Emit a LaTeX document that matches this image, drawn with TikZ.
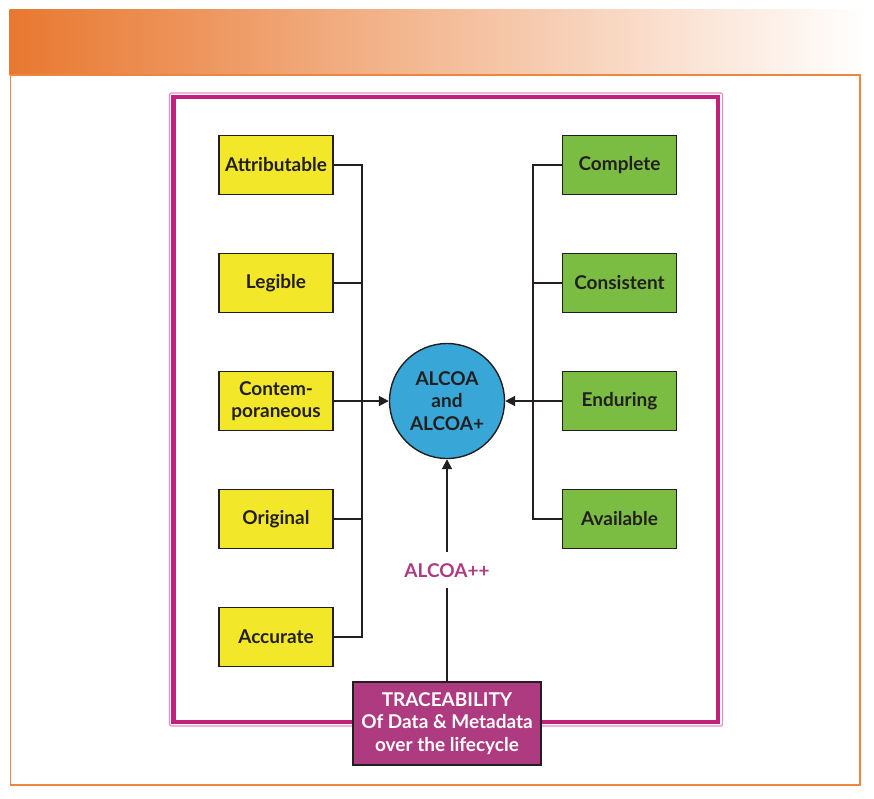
\documentclass[tikz,border=0pt]{standalone}
\usepackage{fontspec}
\setmainfont{Lato}
\usetikzlibrary{arrows.meta}

\definecolor{hdrorange}{HTML}{E87830}
\definecolor{hdrmid}{HTML}{EFA677}
\definecolor{frameorange}{HTML}{EC8640}
\definecolor{framemag}{HTML}{C0217A}
\definecolor{framepink}{HTML}{E78DC2}
\definecolor{boxyellow}{HTML}{F2E829}
\definecolor{boxgreen}{HTML}{7BBD43}
\definecolor{hubblue}{HTML}{38A6D6}
\definecolor{tracemag}{HTML}{AE3A80}
\definecolor{inkdark}{HTML}{231F20}

\tikzset{
  pillar/.style={draw=inkdark, line width=1.4pt, rectangle, minimum width=114pt, minimum height=59pt, inner sep=0pt, align=center, text=inkdark, font=\bfseries\fontsize{19}{22.5}\selectfont},
  alcoa/.style={pillar, fill=boxyellow},
  plus/.style={pillar, fill=boxgreen},
  hub/.style={draw=inkdark, line width=1.4pt, circle, fill=hubblue, minimum size=115pt, inner sep=0pt, align=center, text=inkdark, font=\bfseries\fontsize{19}{22.5}\selectfont},
  trace/.style={draw=inkdark, line width=1.4pt, rectangle, fill=tracemag, minimum width=188pt, minimum height=83pt, inner sep=0pt, align=center, text=white, font=\bfseries\fontsize{19}{22.5}\selectfont},
  link/.style={draw=inkdark, line width=1.9pt},
  arr/.style={link, -{Triangle[length=10pt,width=10pt]}},
}

\begin{document}
\begin{tikzpicture}[x=1pt, y=-1pt]
				\useasboundingbox (0,0) rectangle (874,798);
				% header band and page frame
				\shade[left color=hdrorange, middle color=hdrmid, right color=white] (9.5,9) rectangle (865,75);
				\draw[frameorange, line width=1.5pt] (10.5,75) rectangle (860,785);
				% magenta frame
				\draw[framepink, line width=1.2pt, rounded corners=2pt] (169.5,93) rectangle (722.5,726);
				\draw[framemag, line width=4.5pt] (173.5,97) rectangle (718,722);
				% ALCOA
				\node[alcoa] (At)at(276, 165) {Attributable};
				\node[alcoa] (Le)at(276, 283) {Legible};
				\node[alcoa] (Co)at(276, 401) {Contem-\\poraneous};
				\node[alcoa] (Or)at(276, 519) {Original};
				\node[alcoa] (Ac)at(276, 637) {Accurate};
				% ALCOA+
				\node[plus] (Cm)at(619.5, 165) {Complete};
				\node[plus] (Cs)at(619.5, 283) {Consistent};
				\node[plus] (En)at(619.5, 401) {Enduring};
				\node[plus] (Av)at(619.5, 519) {Available};
				\node[hub] (Hub)at(447, 401) {ALCOA\\and\\ALCOA+};
				\node[trace] (Tr)at(447, 723.5) {TRACEABILITY\\Of Data \& Metadata\\over the lifecycle};
				\coordinate (busL)at(362, 401);
				\coordinate (busR)at(533, 401);
				\draw[link] (At.east) -| (busL) |- (Ac.east);
				\draw[link] (Le.east) -- (Le.east -| busL);
				\draw[link] (Or.east) -- (Or.east -| busL);
				\draw[arr] (Co.east) -- (Hub.west);
				\draw[link] (Cm.west) -| (busR) |- (Av.west);
				\draw[link] (Cs.west) -- (Cs.west -| busR);
				\draw[arr] (En.west) -- (Hub.east);
				\draw[arr] (Tr.north) -- node[fill=white, inner xsep=4pt, inner ysep=11pt, text=tracemag, font=\bfseries\fontsize{19}{22.5}\selectfont] (Lbl) {ALCOA++} (Hub.south);
			\end{tikzpicture}
\end{document}
